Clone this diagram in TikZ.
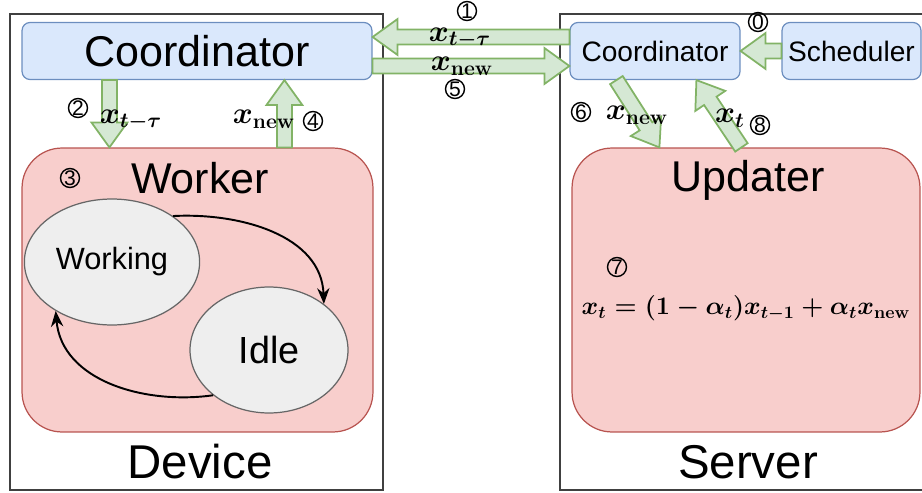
\documentclass[tikz,border=0pt]{standalone}
\usepackage{amsmath,amssymb}
\usepackage[no-math]{fontspec}
\setmainfont{Liberation Sans}
\usepackage{xcolor}
\usepackage{tikz}
\usetikzlibrary{arrows.meta,calc,positioning,shapes.geometric}

\definecolor{coordfill}{HTML}{DAE8FC}
\definecolor{coordedge}{HTML}{6C8EBF}
\definecolor{workfill}{HTML}{F8CECC}
\definecolor{workedge}{HTML}{B85450}
\definecolor{arrowfill}{HTML}{D5E8D4}
\definecolor{arrowedge}{HTML}{82B366}
\definecolor{statefill}{HTML}{EEEEEE}
\definecolor{stateedge}{HTML}{666666}

\tikzset{
  framebox/.style={draw=black!75, line width=1.2pt},
  bluebox/.style={draw=coordedge, fill=coordfill, rounded corners=0.16cm, line width=0.7pt},
  redbox/.style={draw=workedge, fill=workfill, rounded corners=0.8cm, line width=0.7pt},
  statenode/.style={ellipse, draw=stateedge, fill=statefill, line width=0.7pt},
  greenarrow/.style={draw=arrowedge, fill=arrowfill, line width=1pt, line join=miter},
  stepnum/.style={circle, draw, inner sep=0pt, minimum size=0.38cm, line width=0.8pt,
    font=\fontsize{12}{12}\selectfont},
  mathlabel/.style={font=\fontsize{17}{20}\selectfont\boldmath, inner sep=0pt},
}

% block arrow from #1 to #2
\newcommand{\greenarr}[2]{%
  \coordinate (ga-s) at #1;
  \coordinate (ga-e) at #2;
  \coordinate (ga-b) at ($(ga-e)!0.5cm!(ga-s)$);
  \filldraw[greenarrow] ($(ga-s)!0.15cm!90:(ga-e)$) -- ($(ga-b)!0.15cm!90:(ga-e)$)
    -- ($(ga-b)!0.36cm!90:(ga-e)$) -- (ga-e) -- ($(ga-b)!0.36cm!-90:(ga-e)$)
    -- ($(ga-b)!0.15cm!-90:(ga-e)$) -- ($(ga-s)!0.15cm!-90:(ga-e)$) -- cycle;
}

\begin{document}
\begin{tikzpicture}[x=0.02cm,y=-0.02cm,>=Stealth]
    \useasboundingbox (0,0) rectangle (922,493);
    \clip (0,0) rectangle (922,493);

    \draw[framebox] (10,14) rectangle (383,490);
    \draw[framebox] (560,14) rectangle (940,490);

    \node[bluebox, minimum width=7cm, minimum height=1.14cm, font=\fontsize{24.5}{28}\selectfont]
        (lcoord) at (197,51) {Coordinator};
    \node[bluebox, minimum width=3.4cm, minimum height=1.14cm, font=\fontsize{16}{19}\selectfont]
        (rcoord) at (655,51) {Coordinator};
    \node[bluebox, minimum width=2.78cm, minimum height=1.14cm, font=\fontsize{16}{19}\selectfont]
        (sched) at (851.5,51) {Scheduler};

    \node[redbox, minimum width=7.02cm, minimum height=5.68cm] (worker) at (197.5,290) {};
    \node[redbox, minimum width=6.96cm, minimum height=5.68cm] (updater) at (746,290) {};

    \node[font=\fontsize{24.5}{28}\selectfont] (workertext) at (200,178) {Worker};
    \node[stepnum] (n3) at (70,178) {3};
    \node[font=\fontsize{24.5}{28}\selectfont] (updatertext) at (748,180) {Updater};
    \node[stepnum] (n7) at (617,267) {7};
    \node[font=\fontsize{14.5}{18}\selectfont\boldmath] (rule) at (746,308)
        {$x_t = (1-\alpha_t)x_{t-1} + \alpha_t x_{\mathrm{new}}$};

    \node[statenode, minimum width=3.16cm, minimum height=2.52cm, font=\fontsize{17.5}{20}\selectfont]
        (working) at (112,262) {Working};
    \node[statenode, minimum width=3.16cm, minimum height=2.52cm, font=\fontsize{21.5}{25}\selectfont]
        (idle) at (269,350) {Idle};
    \draw[-{Stealth[length=9pt,width=7pt]}, line width=1.1pt] (working.37) to[out=3,in=92] (idle.40);
    \draw[-{Stealth[length=9pt,width=7pt]}, line width=1.1pt] (idle.219) to[out=188,in=-85] (working.221);

    \node[font=\fontsize{27}{31}\selectfont] (device) at (200,462) {Device};
    \node[font=\fontsize{27}{31}\selectfont] (server) at (748,462) {Server};

    \greenarr{($(sched.west)$)}{($(rcoord.east)$)}
    \node[stepnum] (n0) at (758,22) {0};

    \greenarr{($(rcoord.west)+(0,-14)$)}{($(lcoord.east)+(0,-14)$)}
    \node[stepnum] (n1) at (467,11) {1};
    \node[mathlabel] (l1) at (460,38) {$x_{t-\tau}$};

    \greenarr{($(lcoord.east)+(0,15)$)}{($(rcoord.west)+(0,15)$)}
    \node[stepnum] (n5) at (455,89) {5};
    \node[mathlabel] (l5) at (462,66) {$x_{\mathrm{new}}$};

    \greenarr{($(lcoord.south west)+(88,0)$)}{($(worker.north west)+(88,0)$)}
    \node[stepnum] (n2) at (78,108) {2};
    \node[mathlabel] (l2) at (131,120) {$x_{t-\tau}$};

    \greenarr{($(worker.north west)+(263,0)$)}{($(lcoord.south west)+(263,0)$)}
    \node[stepnum] (n4) at (313,121) {4};
    \node[mathlabel] (l4) at (264,119) {$x_{\mathrm{new}}$};

    \greenarr{($(rcoord.south west)+(47,0)$)}{($(updater.north west)+(88,0)$)}
    \node[stepnum] (n6) at (581,112) {6};
    \node[mathlabel] (l6) at (637,115) {$x_{\mathrm{new}}$};

    \greenarr{($(updater.north west)+(170,0)$)}{($(rcoord.south west)+(127,0)$)}
    \node[stepnum] (n8) at (760,125) {8};
    \node[mathlabel] (l8) at (730,118) {$x_t$};
\end{tikzpicture}
\end{document}
